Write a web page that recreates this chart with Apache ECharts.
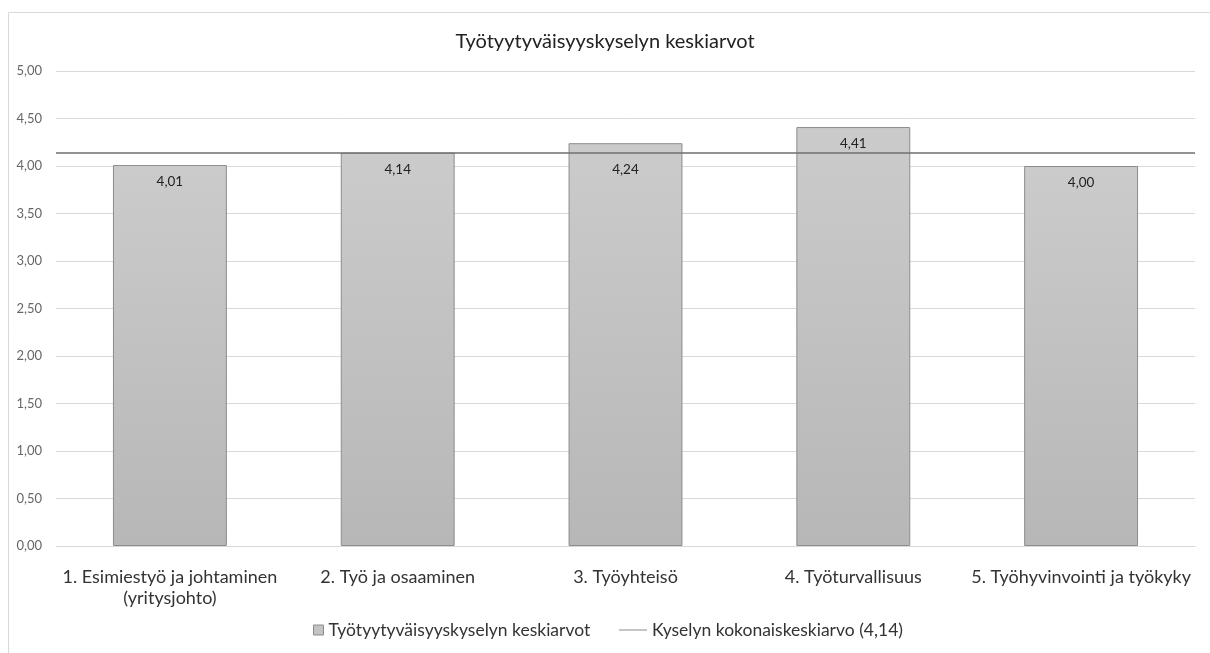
<!DOCTYPE html>
<html>
<head>
<meta charset="utf-8">
<script src="https://cdn.jsdelivr.net/npm/echarts@6/dist/echarts.min.js"></script>
<style>
  html, body { margin: 0; padding: 0; background: #fff; }
  #chart { width: 1210px; height: 653px; }
</style>
</head>
<body>
<div id="chart"></div>
<script>
// Survey categories and their mean scores
const categories = [
  '1. Esimiestyö ja johtaminen\n(yritysjohto)',
  '2. Työ ja osaaminen',
  '3. Työyhteisö',
  '4. Työturvallisuus',
  '5. Työhyvinvointi ja työkyky'
];
const meanScores = [4.01, 4.14, 4.24, 4.41, 4.00];
const overallMean = [4.14];

const barName = 'Työtyytyväisyyskyselyn keskiarvot';
const lineName = 'Kyselyn kokonaiskeskiarvo (4,14)';
const fmt = v => v.toFixed(2).replace('.', ',');
const FONT = 'Lato, "Open Sans", sans-serif';
const legendText = { fontFamily: FONT, fontSize: 17.5, color: '#333' };

// the label of the third bar sits a little lower so it clears the average line
const barData = meanScores.map((v, i) =>
  i === 2 ? { value: v, label: { offset: [0, 9] } } : v
);

const chart = echarts.init(document.getElementById('chart'));
chart.setOption({
  animation: false,
  backgroundColor: '#fff',
  textStyle: { fontFamily: FONT },
  graphic: [{
    type: 'rect',
    left: 6, top: 10,
    shape: { width: 1230, height: 680 },
    style: { fill: 'none', stroke: '#d9d9d9', lineWidth: 1 },
    silent: true
  }],
  title: {
    text: 'Työtyytyväisyyskyselyn keskiarvot',
    left: 'center', top: 27,
    textStyle: { fontFamily: FONT, fontSize: 20, fontWeight: 'normal', color: '#222' }
  },
  // two legend blocks: a small square for the bars, a longer thin stroke for the average line
  legend: [
    {
      left: 313, top: 621, padding: 0,
      itemWidth: 10, itemHeight: 10,
      textStyle: legendText,
      data: [{ name: barName, icon: 'rect', itemStyle: { color: '#c4c4c4', borderColor: '#8c8c8c', borderWidth: 1 } }]
    },
    {
      left: 619, top: 621, padding: 0,
      itemWidth: 28, itemHeight: 10,
      symbolKeepAspect: false,
      textStyle: legendText,
      data: [{
        name: lineName,
        // empty sub-paths at y=0 and y=10 keep the stroke 1px thick in a 10px-tall box
        icon: 'path://M0,0 L0,0 M0,4.5 L28,4.5 L28,5.5 L0,5.5 Z M0,10 L0,10',
        itemStyle: { color: '#8a8a8a' }
      }]
    }
  ],
  grid: { left: 56, right: 15, top: 71, bottom: 107, containLabel: false },
  xAxis: {
    type: 'category',
    data: categories,
    axisLine: { show: true, lineStyle: { color: '#d9d9d9' } },
    axisTick: { show: false },
    axisLabel: { fontFamily: FONT, fontSize: 18, color: '#333', margin: 21, lineHeight: 21, interval: 0 }
  },
  yAxis: {
    type: 'value',
    min: 0, max: 5, interval: 0.5,
    axisLine: { show: false },
    axisTick: { show: false },
    splitLine: { lineStyle: { color: '#d9d9d9' } },
    axisLabel: { fontFamily: FONT, fontSize: 13, color: '#666', margin: 14, formatter: v => fmt(v) }
  },
  series: [
    {
      name: barName,
      type: 'bar',
      data: barData,
      barWidth: '50%',
      itemStyle: {
        color: new echarts.graphic.LinearGradient(0, 0, 0, 1, [
          { offset: 0, color: '#cbcbcb' },
          { offset: 1, color: '#b7b7b7' }
        ]),
        borderColor: '#8c8c8c',
        borderWidth: 1
      },
      label: {
        show: true,
        position: 'insideTop',
        distance: 10,
        fontFamily: FONT, fontSize: 13.5, color: '#222',
        formatter: p => fmt(p.value)
      }
    },
    {
      name: lineName,
      type: 'line',
      data: [],
      itemStyle: { color: '#8a8a8a' },
      markLine: {
        silent: true,
        symbol: 'none',
        label: { show: false },
        lineStyle: { color: '#6f6f6f', width: 1.5, type: 'solid' },
        data: [{ yAxis: overallMean[0] }]
      }
    }
  ]
});
</script>
</body>
</html>
